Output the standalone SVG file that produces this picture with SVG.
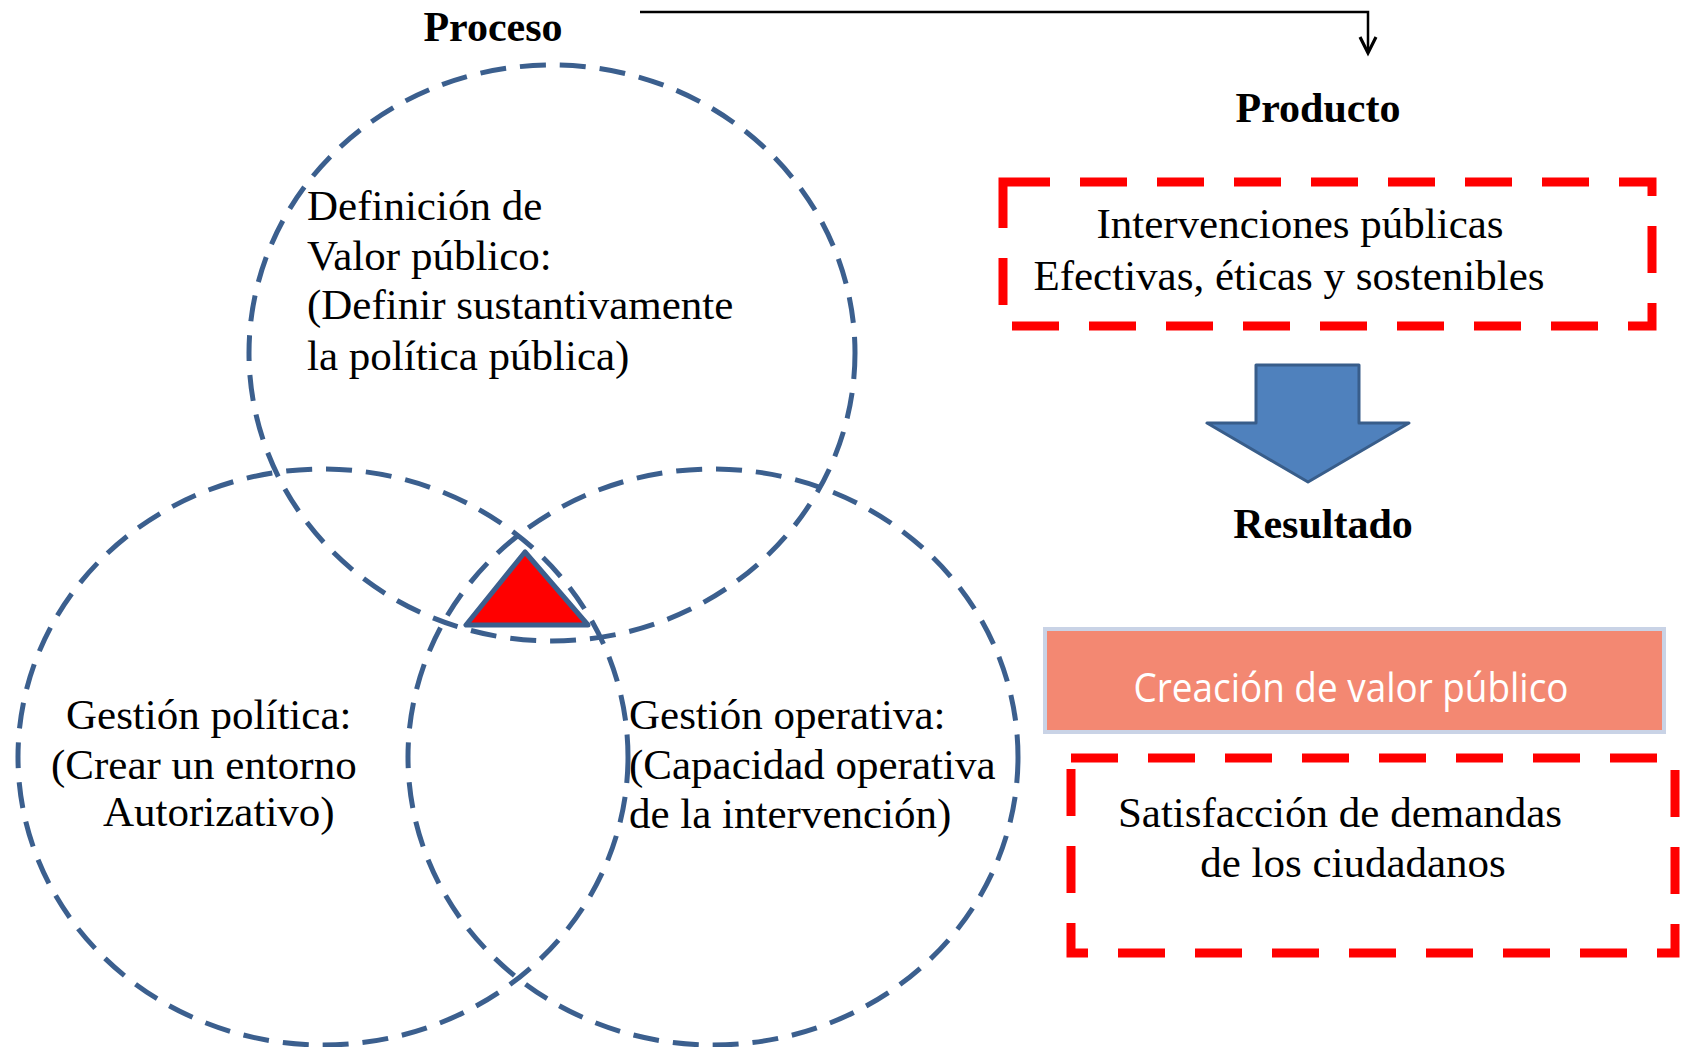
<svg xmlns="http://www.w3.org/2000/svg" width="1681" height="1047" viewBox="0 0 1681 1047">
<defs>
<style>
.circ{fill:none;stroke:#3B5F8E;stroke-width:5;stroke-dasharray:26 14}
.red{fill:none;stroke:#FF0000;stroke-width:9;stroke-dasharray:47 30}
.t{font-family:"Liberation Serif","Times New Roman",serif;font-size:43px;fill:#000}
.h{font-family:"Liberation Serif","Times New Roman",serif;font-size:42px;font-weight:bold;fill:#000}
.w{font-family:"Open Sans","Noto Sans",sans-serif;font-size:40px;fill:#fff}
</style>
</defs>
<rect width="1681" height="1047" fill="#fff"/>

<g id="connectors">
<path d="M640,12 H1368 V52" fill="none" stroke="#000" stroke-width="2.5"/>
<path d="M1360,37 L1368,53 L1376,37" fill="none" stroke="#000" stroke-width="3.2" stroke-linejoin="miter"/>
</g>

<g id="titulo-proceso"><text class="h" x="493" y="41" text-anchor="middle">Proceso</text></g>
<g id="titulo-producto"><text class="h" x="1318" y="122" text-anchor="middle">Producto</text></g>
<g id="titulo-resultado"><text class="h" x="1323" y="538" text-anchor="middle">Resultado</text></g>

<g id="circulo-valor">
<ellipse class="circ" cx="552" cy="353" rx="303" ry="288"/>
<text class="t" x="307" y="220">Definición de</text>
<text class="t" x="307" y="270">Valor público:</text>
<text class="t" x="307" y="319">(Definir sustantivamente</text>
<text class="t" x="307" y="370">la política pública)</text>
</g>

<g id="circulo-politica">
<ellipse class="circ" cx="323" cy="757" rx="305" ry="288"/>
<text class="t" x="66" y="729">Gestión política:</text>
<text class="t" x="51" y="779">(Crear un entorno</text>
<text class="t" x="103" y="826">Autorizativo)</text>
</g>

<g id="circulo-operativa">
<ellipse class="circ" cx="713" cy="757" rx="305" ry="288"/>
<text class="t" x="629" y="729">Gestión operativa:</text>
<text class="t" x="629" y="779">(Capacidad operativa</text>
<text class="t" x="629" y="828">de la intervención)</text>
</g>

<g id="triangulo">
<polygon points="525,552 466,625 588,625" fill="#FF0000" stroke="#3B5F8E" stroke-width="5" stroke-linejoin="round"/>
</g>

<g id="producto">
<rect class="red" x="1003" y="182" width="649" height="144"/>
<text class="t" x="1300" y="238" text-anchor="middle">Intervenciones públicas</text>
<text class="t" x="1289" y="290" text-anchor="middle">Efectivas, éticas y sostenibles</text>
</g>

<g id="flecha">
<polygon points="1256,365 1359,365 1359,423 1409,423 1308,482 1207,423 1256,423" fill="#4F81BD" stroke="#385D8A" stroke-width="3" stroke-linejoin="round"/>
</g>

<g id="creacion">
<rect x="1043" y="627" width="623" height="107" fill="#C9D3E6"/>
<rect x="1047" y="631" width="615" height="99" fill="#F38872"/>
<text class="w" x="1351" y="702" text-anchor="middle" textLength="435" lengthAdjust="spacingAndGlyphs">Creación de valor público</text>
</g>

<g id="satisfaccion">
<rect class="red" x="1071" y="758" width="604" height="195"/>
<text class="t" x="1340" y="827" text-anchor="middle">Satisfacción de demandas</text>
<text class="t" x="1353" y="877" text-anchor="middle">de los ciudadanos</text>
</g>
</svg>
